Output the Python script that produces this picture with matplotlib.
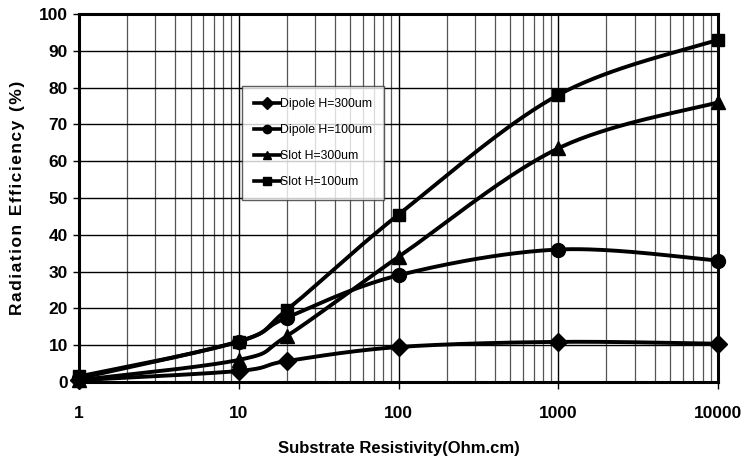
import numpy as np
import matplotlib
matplotlib.use("Agg")
import matplotlib.pyplot as plt
from matplotlib.ticker import LogLocator, FixedLocator, NullFormatter
from matplotlib.lines import Line2D

resistivity = [1, 10, 20, 100, 1000, 10000]
series_names = ["Dipole H=300um", "Dipole H=100um", "Slot H=300um", "Slot H=100um"]
dipole_300 = [0.5, 3.0, 5.7, 9.5, 10.9, 10.4]
dipole_100 = [1.0, 11.0, 17.5, 29.0, 36.0, 33.0]
slot_300 = [0.5, 6.0, 12.5, 34.0, 63.5, 76.0]
slot_100 = [1.5, 11.0, 19.6, 45.5, 78.0, 93.0]
markers = ["D", "o", "^", "s"]
msizes = [9, 10, 10, 9]
x_ticks = [1, 10, 100, 1000, 10000]
x_ticklabels = ["1", "10", "100", "1000", "10000"]


def smooth(xs, ys, n=40):
    # Excel-like smoothing (Catmull-Rom Bezier) in log10(x) space
    lx = np.log10(np.asarray(xs, float))
    y = np.asarray(ys, float)
    P = np.column_stack([lx, y])
    out = [P[0]]
    m = len(P)
    for i in range(m - 1):
        p0 = P[i - 1] if i > 0 else P[i]
        p1 = P[i]
        p2 = P[i + 1]
        p3 = P[i + 2] if i + 2 < m else P[i + 1]
        c1 = p1 + (p2 - p0) / 6.0
        c2 = p2 - (p3 - p1) / 6.0
        t = np.linspace(0, 1, n)[1:, None]
        B = ((1 - t) ** 3) * p1 + 3 * ((1 - t) ** 2) * t * c1 + 3 * (1 - t) * t ** 2 * c2 + t ** 3 * p2
        out.extend(B)
    out = np.array(out)
    return 10 ** out[:, 0], out[:, 1]


fig = plt.figure(figsize=(7.45, 4.65), dpi=100)
ax = fig.add_axes([0.106, 0.1785, 0.858, 0.7915])

ax.set_xscale("log")
ax.set_xlim(1, 10000)
ax.set_ylim(0, 100)

ax.xaxis.set_major_locator(FixedLocator(x_ticks))
ax.xaxis.set_minor_locator(LogLocator(base=10, subs=np.arange(2, 10), numticks=20))
ax.xaxis.set_minor_formatter(NullFormatter())
ax.set_xticklabels(x_ticklabels)
ax.set_yticks(np.arange(0, 101, 10))

ax.grid(True, which="major", color="black", linewidth=1.0)
ax.grid(True, which="minor", axis="x", color="#555555", linewidth=0.9)
ax.set_axisbelow(True)

for s in ax.spines.values():
    s.set_linewidth(2.2)
    s.set_color("black")

ax.tick_params(axis="x", which="major", direction="out", length=5, width=1, pad=12)
ax.tick_params(axis="x", which="minor", length=0)
ax.tick_params(axis="y", direction="out", length=4, width=1, pad=4)

fam = ["Liberation Sans", "DejaVu Sans"]
for lbl in ax.get_xticklabels() + ax.get_yticklabels():
    lbl.set_fontfamily(fam)
    lbl.set_fontweight("bold")
    lbl.set_fontsize(12.5)

all_series = [dipole_300, dipole_100, slot_300, slot_100]
for name, ys, mk, ms in zip(series_names, all_series, markers, msizes):
    sx, sy = smooth(resistivity, ys)
    ax.plot(sx, sy, color="black", linewidth=2.8, solid_capstyle="round", zorder=3, clip_on=False)
    ax.plot(resistivity, ys, linestyle="none", marker=mk, markersize=ms,
            color="black", zorder=4, clip_on=False)

handles = [Line2D([0], [0], color="black", linewidth=2.6, marker=mk, markersize=6)
           for mk in markers]
leg = ax.legend(handles, series_names, loc="upper left",
                bbox_to_anchor=(0.2545, 0.805, 0.2, 0.0), bbox_transform=ax.transAxes,
                prop={"family": ["Liberation Sans Narrow", "Liberation Sans"], "size": 8.8},
                frameon=True, fancybox=False, edgecolor="#333333",
                handlelength=2.1, handletextpad=0.05, labelspacing=1.15,
                borderpad=1.0, borderaxespad=0)
leg.get_frame().set_linewidth(1.0)
leg.set_zorder(5)

ax.set_xlabel("Substrate Resistivity(Ohm.cm)", fontfamily=fam, fontweight="bold",
              fontsize=12, labelpad=15)
ax.set_ylabel("R a d i a t i o n   E f f i c i e n c y   ( % )".replace("   ", "\u2002").replace(" ", "\u200a"),
              fontfamily=fam, fontweight="bold", fontsize=12.5, labelpad=10)

fig.savefig("out.png", dpi=100)
